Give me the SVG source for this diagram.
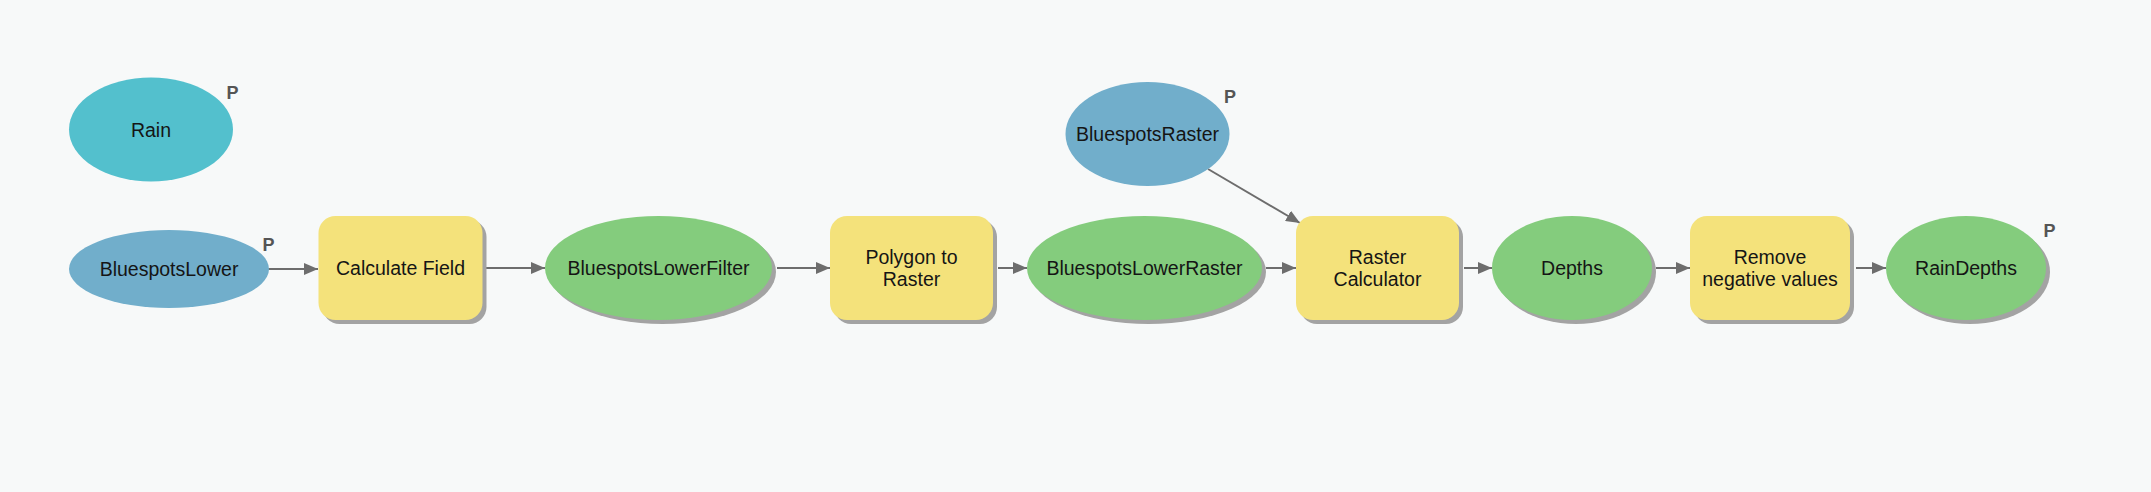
<svg xmlns="http://www.w3.org/2000/svg" width="2151" height="492" viewBox="0 0 2151 492">
<defs>
<marker id="arr" markerUnits="userSpaceOnUse" markerWidth="14" markerHeight="12" refX="14" refY="6" orient="auto">
<path d="M0,0 L14,6 L0,12 z" fill="#6d6d6d"/>
</marker>
<style>
.lbl{font-family:"Liberation Sans",Arial,sans-serif;font-size:19.5px;fill:#151515;text-anchor:middle}
.p{font-family:"Liberation Sans",Arial,sans-serif;font-size:18px;font-weight:bold;fill:#555555}
.shadow{fill:#a3a3a3}
.cyan{fill:#53c0cd}
.blue{fill:#71aecb}
.green{fill:#84cc7d}
.yellow{fill:#f4e27b}
.conn{stroke:#6d6d6d;stroke-width:2;fill:none;marker-end:url(#arr)}
</style>
</defs>
<rect width="2151" height="492" fill="#f7f9f9"/>
<g id="connectors">
<line class="conn" x1="268" y1="269" x2="318" y2="269"/>
<line class="conn" x1="486" y1="268" x2="545" y2="268"/>
<line class="conn" x1="777" y1="268" x2="830" y2="268"/>
<line class="conn" x1="998" y1="268" x2="1027" y2="268"/>
<line class="conn" x1="1266" y1="268" x2="1296" y2="268"/>
<line class="conn" x1="1208" y1="169" x2="1300" y2="223"/>
<line class="conn" x1="1464" y1="268" x2="1492" y2="268"/>
<line class="conn" x1="1656" y1="268" x2="1690" y2="268"/>
<line class="conn" x1="1856" y1="268" x2="1886" y2="268"/>
</g>
<g id="Rain">
<ellipse class="cyan" cx="151" cy="129.5" rx="82" ry="52"/>
<text class="lbl" x="151" y="137">Rain</text>
<text class="p" x="226.5" y="99">P</text>
</g>
<g id="BluespotsLower">
<ellipse class="blue" cx="169" cy="269" rx="100" ry="39"/>
<text class="lbl" x="169" y="276">BluespotsLower</text>
<text class="p" x="262.5" y="250.5">P</text>
</g>
<g id="CalculateField">
<rect class="shadow" x="322.5" y="220" width="164" height="104" rx="17"/>
<rect class="yellow" x="318.5" y="216" width="164" height="104" rx="17"/>
<text class="lbl" x="400.5" y="275">Calculate Field</text>
</g>
<g id="BluespotsLowerFilter">
<ellipse class="shadow" cx="662.5" cy="272" rx="113.5" ry="52"/>
<ellipse class="green" cx="658.5" cy="268" rx="113.5" ry="52"/>
<text class="lbl" x="658.5" y="275">BluespotsLowerFilter</text>
</g>
<g id="PolygonToRaster">
<rect class="shadow" x="834" y="220" width="163" height="104" rx="17"/>
<rect class="yellow" x="830" y="216" width="163" height="104" rx="17"/>
<text class="lbl" x="911.5" y="264">Polygon to</text>
<text class="lbl" x="911.5" y="286">Raster</text>
</g>
<g id="BluespotsLowerRaster">
<ellipse class="shadow" cx="1148.5" cy="272" rx="117.5" ry="52"/>
<ellipse class="green" cx="1144.5" cy="268" rx="117.5" ry="52"/>
<text class="lbl" x="1144.5" y="275">BluespotsLowerRaster</text>
</g>
<g id="BluespotsRaster">
<ellipse class="blue" cx="1147.5" cy="134" rx="82" ry="52"/>
<text class="lbl" x="1147.5" y="141">BluespotsRaster</text>
<text class="p" x="1224" y="102.5">P</text>
</g>
<g id="RasterCalculator">
<rect class="shadow" x="1300" y="220" width="163" height="104" rx="17"/>
<rect class="yellow" x="1296" y="216" width="163" height="104" rx="17"/>
<text class="lbl" x="1377.5" y="264">Raster</text>
<text class="lbl" x="1377.5" y="286">Calculator</text>
</g>
<g id="Depths">
<ellipse class="shadow" cx="1576" cy="272" rx="80" ry="52"/>
<ellipse class="green" cx="1572" cy="268" rx="80" ry="52"/>
<text class="lbl" x="1572" y="275">Depths</text>
</g>
<g id="RemoveNegativeValues">
<rect class="shadow" x="1694" y="220" width="160" height="104" rx="17"/>
<rect class="yellow" x="1690" y="216" width="160" height="104" rx="17"/>
<text class="lbl" x="1770" y="264">Remove</text>
<text class="lbl" x="1770" y="286">negative values</text>
</g>
<g id="RainDepths">
<ellipse class="shadow" cx="1970" cy="272" rx="80" ry="52"/>
<ellipse class="green" cx="1966" cy="268" rx="80" ry="52"/>
<text class="lbl" x="1966" y="275">RainDepths</text>
<text class="p" x="2043.5" y="237">P</text>
</g>
</svg>
